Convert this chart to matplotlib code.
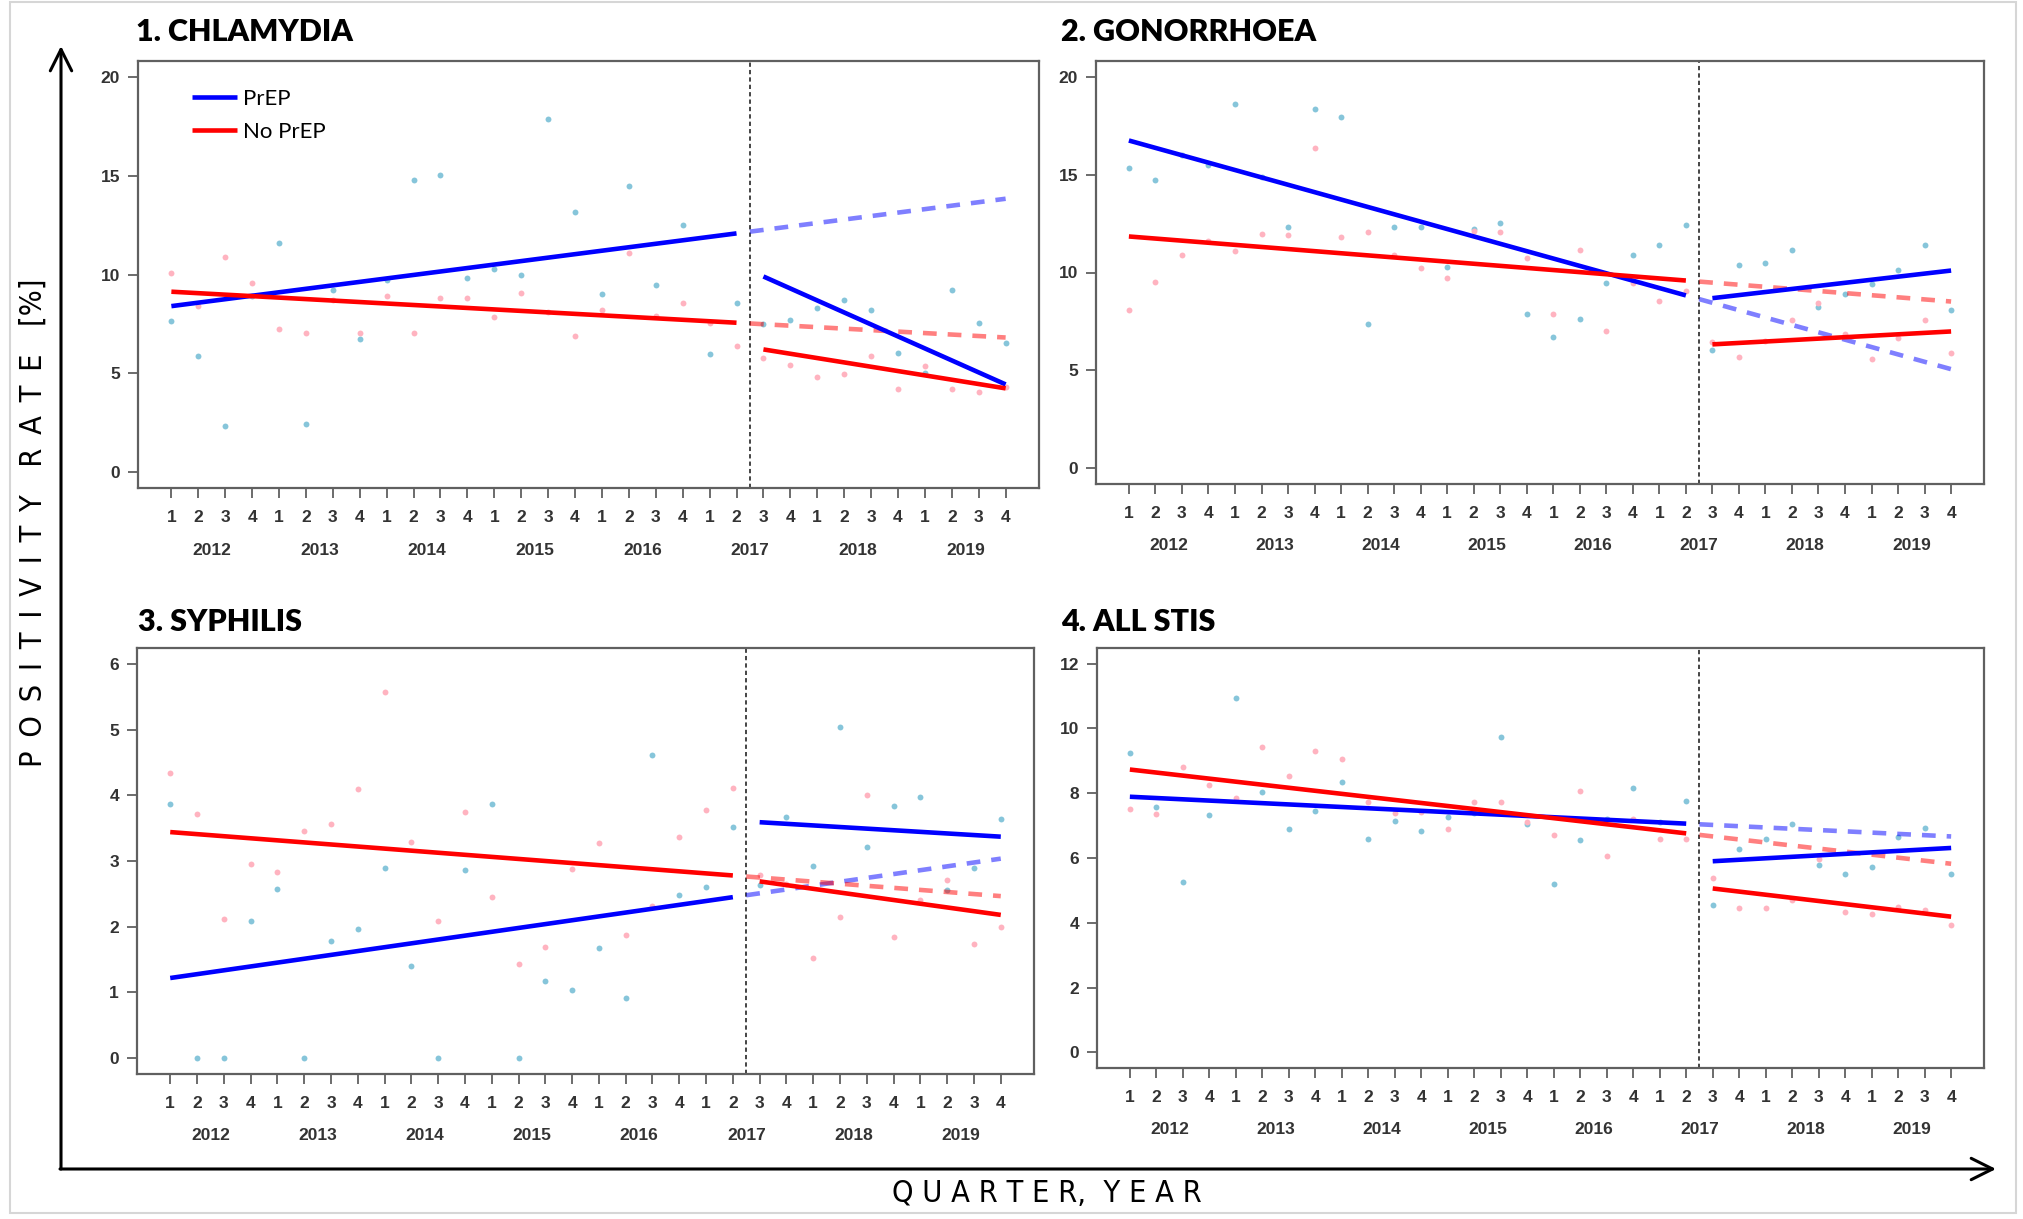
import matplotlib
matplotlib.use("Agg")

import matplotlib.pyplot as plt
import numpy as np
from matplotlib.patches import Rectangle

W, H = 2024, 1219

QUARTER_LABELS = ["1", "2", "3", "4"] * 8
YEARS = ["2012", "2013", "2014", "2015", "2016", "2017", "2018", "2019"]
INTERVENTION = 22.5  # PrEP roll-out, between 2017 Q2 and Q3

# --- quarterly positivity rates [%], 2012 Q1 .. 2019 Q4 ---
chla_prep = [7.63, 5.89, 2.33, 8.9, 11.58, 2.45, 9.2, 6.72, 9.7, 14.77, 15.02, 9.82,
             10.28, 9.96, 17.87, 13.15, 9.0, 14.5, 9.45, 12.5, 5.96, 8.54, 7.5, 7.68,
             8.29, 8.69, 8.22, 6.03, 5.0, 9.2, 7.56, 6.53]
chla_noprep = [10.09, 8.4, 10.87, 9.57, 7.26, 7.04, 8.7, 7.04, 8.91, 7.04, 8.81, 8.81,
               7.83, 9.06, 8.1, 6.87, 8.19, 11.07, 7.9, 8.54, 7.56, 6.4, 5.76, 5.43,
               4.84, 4.98, 5.89, 4.19, 5.37, 4.19, 4.05, 4.3]

gono_prep = [15.36, 14.72, 16.0, 15.5, 18.6, 14.9, 12.32, 18.33, 17.94, 7.37, 12.32, 12.32,
             10.28, 12.22, 12.52, 7.89, 6.73, 7.64, 9.46, 10.88, 11.41, 12.45, 6.02, 10.36,
             10.49, 11.16, 8.23, 8.88, 9.4, 10.14, 11.41, 8.1]
gono_noprep = [8.1, 9.53, 10.89, 11.6, 11.08, 11.98, 11.93, 16.35, 11.81, 12.05, 10.9, 10.23,
               9.72, 12.12, 12.05, 10.75, 7.89, 11.16, 6.99, 9.46, 8.55, 9.08, 6.45, 5.71,
               6.5, 7.59, 8.44, 6.87, 5.56, 6.65, 7.59, 5.88]

syph_prep = [3.86, 0, 0, 2.08, 2.57, 0, 1.79, 1.96, 2.9, 1.4, 0, 2.87,
             3.86, 0, 1.17, 1.04, 1.68, 0.92, 4.62, 2.48, 2.6, 3.51, 2.63, 3.67,
             2.92, 5.04, 3.21, 3.84, 3.98, 2.56, 2.9, 3.64]
syph_noprep = [4.34, 3.72, 2.12, 2.96, 2.83, 3.45, 3.57, 4.09, 5.57, 3.29, 2.08, 3.74,
               2.45, 1.44, 1.69, 2.88, 3.28, 1.88, 2.32, 3.37, 3.77, 4.11, 2.78, 2.65,
               1.52, 2.15, 4.0, 1.84, 2.4, 2.71, 1.74, 2.0]

all_prep = [9.24, 7.56, 5.26, 7.32, 10.94, 8.04, 6.88, 7.44, 8.35, 6.6, 7.15, 6.84,
            7.27, 7.4, 9.74, 7.04, 5.21, 6.57, 7.2, 8.17, 7.1, 7.76, 4.54, 6.29,
            6.6, 7.06, 5.78, 5.52, 5.71, 6.65, 6.93, 5.52]
all_noprep = [7.5, 7.35, 8.81, 8.25, 7.84, 9.43, 8.53, 9.3, 9.07, 7.73, 7.39, 7.42,
              6.91, 7.73, 7.73, 7.12, 6.7, 8.07, 6.07, 7.2, 6.6, 6.6, 5.37, 4.46,
              4.46, 4.7, 5.98, 4.32, 4.27, 4.5, 4.4, 3.93]

# --- fitted segments: (value at first quarter, value at last quarter) ---
chla_prep_pre, chla_prep_post = (8.4, 12.08), (9.9, 4.44)
chla_noprep_pre, chla_noprep_post = (9.13, 7.56), (6.21, 4.24)
gono_prep_pre, gono_prep_post = (16.74, 8.83), (8.69, 10.1)
gono_noprep_pre, gono_noprep_post = (11.84, 9.59), (6.33, 6.99)
syph_prep_pre, syph_prep_post = (1.22, 2.45), (3.59, 3.37)
syph_noprep_pre, syph_noprep_post = (3.44, 2.78), (2.69, 2.18)
all_prep_pre, all_prep_post = (7.89, 7.06), (5.9, 6.31)
all_noprep_pre, all_noprep_post = (8.73, 6.76), (5.06, 4.19)

PANELS = [
    ("1. CHLAMYDIA", [0, 5, 10, 15, 20], chla_prep, chla_noprep,
     chla_prep_pre, chla_prep_post, chla_noprep_pre, chla_noprep_post),
    ("2. GONORRHOEA", [0, 5, 10, 15, 20], gono_prep, gono_noprep,
     gono_prep_pre, gono_prep_post, gono_noprep_pre, gono_noprep_post),
    ("3. SYPHILIS", [0, 1, 2, 3, 4, 5, 6], syph_prep, syph_noprep,
     syph_prep_pre, syph_prep_post, syph_noprep_pre, syph_noprep_post),
    ("4. ALL STIS", [0, 2, 4, 6, 8, 10, 12], all_prep, all_noprep,
     all_prep_pre, all_prep_post, all_noprep_pre, all_noprep_post),
]

# pixel boxes (left, top, right, bottom) and title anchor
BOXES = [(138, 61, 1039, 488), (1096, 61, 1984, 484),
         (137, 648, 1034, 1074), (1097, 648, 1984, 1068)]
TITLE_POS = [(136, 32), (1061, 32), (138, 622), (1061, 622)]

BLUE, RED = "#0000ff", "#ff0000"
PT_BLUE, PT_RED = "#86c5da", "#ffb3c0"
TICK_FONT = ["Liberation Sans", "DejaVu Sans"]
NARROW = ["Liberation Sans Narrow", "DejaVu Sans"]


def spaced(text, gap):
    # wide letter tracking; bracketed units stay tight
    words = [w if w.startswith("[") else gap.join(w) for w in text.split(" ")]
    return (gap * 2).join(words)


def draw_fit(ax, pre, post, color, label=None):
    x = np.arange(1, 33)
    pre_x = x[:22]
    slope = (pre[1] - pre[0]) / (pre_x[-1] - pre_x[0])
    ax.plot([pre_x[0], pre_x[-1]], pre, color=color, lw=3.3,
            solid_capstyle="butt", zorder=4, label=label)
    cf_x = np.array([INTERVENTION, x[-1]])
    ax.plot(cf_x, pre[0] + slope * (cf_x - pre_x[0]), color=color, alpha=0.5,
            lw=3.3, ls=(0, (3, 2.4)), zorder=3)
    ax.plot([x[22], x[-1]], post, color=color, lw=3.3,
            solid_capstyle="butt", zorder=4)


fig = plt.figure(figsize=(W / 100, H / 100), dpi=100, facecolor="white")

# outer frame and the big hand-drawn axes
over = fig.add_axes([0, 0, 1, 1])
over.set_xlim(0, W)
over.set_ylim(H, 0)
over.axis("off")
over.add_patch(Rectangle((10, 2), W - 18, H - 8, fill=False, ec="#d6d6d6", lw=1.5))
arrow = dict(arrowstyle="->,head_length=0.7,head_width=0.35", lw=2.2,
             color="black", mutation_scale=22, shrinkA=0, shrinkB=0)
over.annotate("", xy=(61, 46), xytext=(61, 1169), arrowprops=arrow)
over.annotate("", xy=(1996, 1169), xytext=(60, 1169), arrowprops=arrow)
over.text(33, 523, spaced("POSITIVITY RATE [%]", "\u2002"), rotation=90,
          ha="center", va="center", fontsize=22, family=NARROW,
          fontstretch="condensed")
over.text(1047, 1194, "Q U A R T E R,  Y E A R", ha="center", va="center",
          fontsize=22, family=NARROW, fontstretch="condensed")

x = np.arange(1, 33)
for i, (title, yticks, prep, noprep, p_pre, p_post, n_pre, n_post) in enumerate(PANELS):
    l, t, r, b = BOXES[i]
    ax = fig.add_axes([l / W, 1 - b / H, (r - l) / W, (b - t) / H])
    pad = 0.04 * (yticks[-1] - yticks[0])
    ax.set_xlim(1 - 0.04 * 31, 32 + 0.04 * 31)
    ax.set_ylim(yticks[0] - pad, yticks[-1] + pad)

    ax.scatter(x, prep, s=18, color=PT_BLUE, lw=0, zorder=2)
    ax.scatter(x, noprep, s=18, color=PT_RED, lw=0, zorder=2)
    draw_fit(ax, p_pre, p_post, BLUE, "PrEP")
    draw_fit(ax, n_pre, n_post, RED, "No PrEP")
    ax.axvline(INTERVENTION, color="#444444", lw=1.4, ls=(0, (2.2, 1.6)), zorder=1)

    for s in ax.spines.values():
        s.set_color("#606060")
        s.set_linewidth(1.6)
    ax.set_xticks(x)
    ax.set_xticklabels(QUARTER_LABELS)
    ax.set_yticks(yticks)
    ax.tick_params(axis="both", length=7, width=1.3, color="#606060",
                   labelcolor="#333333", labelsize=12.5)
    ax.tick_params(axis="x", pad=9)
    ax.tick_params(axis="y", pad=6)
    for lab in ax.get_xticklabels() + ax.get_yticklabels():
        lab.set_family(TICK_FONT)
        lab.set_fontweight("bold")

    for k, year in enumerate(YEARS):
        ax.annotate(year, xy=(2.5 + 4 * k, 0), xycoords=("data", "axes fraction"),
                    xytext=(0, -62), textcoords="offset pixels", ha="center",
                    va="center", fontsize=12.5, fontweight="bold", color="#333333",
                    family=TICK_FONT)

    tx, ty = TITLE_POS[i]
    fig.text(tx / W, 1 - ty / H, title, ha="left", va="center", fontsize=22,
             fontweight="heavy", family=["Lato", "DejaVu Sans"])

    if i == 0:
        ax.legend(loc="upper left", bbox_to_anchor=(0.06, 0.935), frameon=False,
                  handlelength=2.0, handletextpad=0.3,
                  labelspacing=0.6, borderpad=0, borderaxespad=0,
                  prop={"family": ["Lato", "DejaVu Sans"], "size": 16})

fig.savefig("out.png", dpi=100, facecolor="white")
